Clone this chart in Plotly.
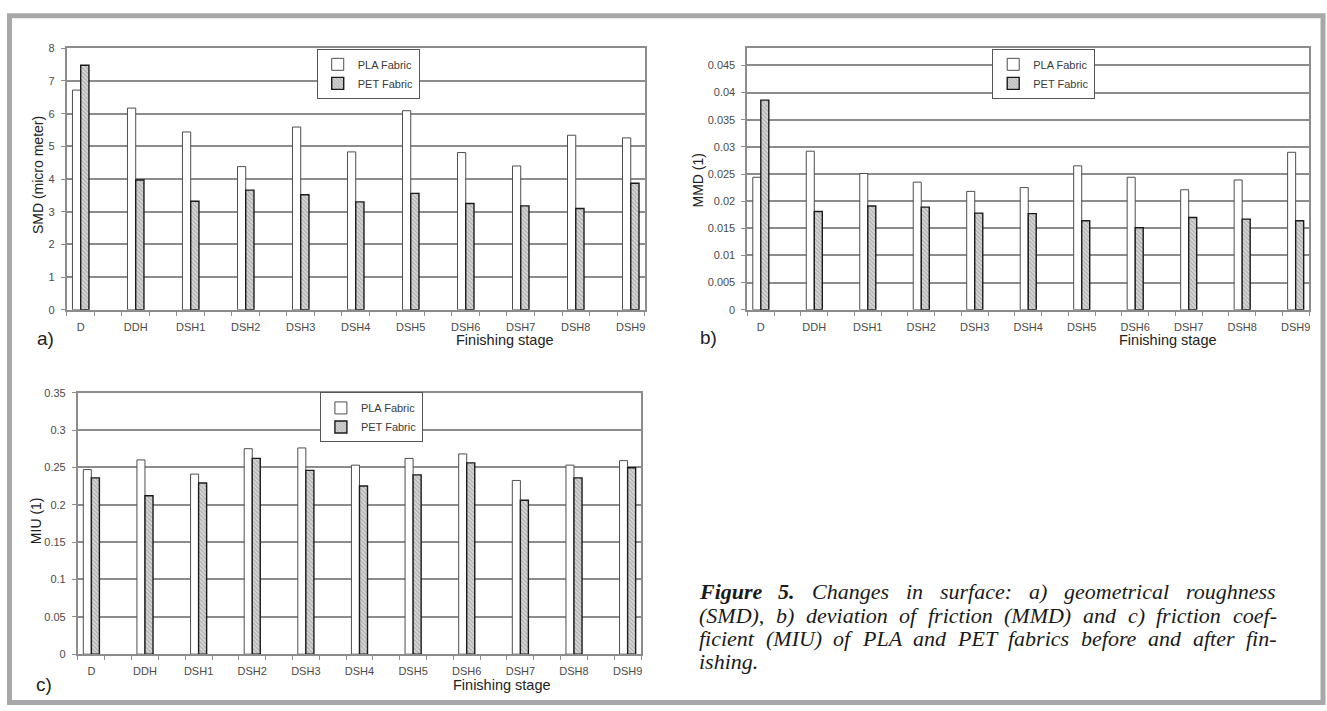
import plotly.graph_objects as go

W, H = 1327, 711

categories = ["D", "DDH", "DSH1", "DSH2", "DSH3", "DSH4", "DSH5", "DSH6", "DSH7", "DSH8", "DSH9"]

smd_pla = [6.72, 6.17, 5.44, 4.38, 5.59, 4.83, 6.09, 4.81, 4.40, 5.34, 5.26]
smd_pet = [7.48, 3.97, 3.32, 3.66, 3.52, 3.30, 3.56, 3.25, 3.18, 3.10, 3.87]

mmd_pla = [0.0244, 0.0292, 0.0251, 0.0235, 0.0218, 0.0225, 0.0265, 0.0244, 0.0221, 0.0239, 0.0290]
mmd_pet = [0.0386, 0.0181, 0.0191, 0.0189, 0.0178, 0.0177, 0.0164, 0.0151, 0.0170, 0.0167, 0.0164]

miu_pla = [0.247, 0.260, 0.241, 0.275, 0.276, 0.253, 0.262, 0.268, 0.2325, 0.253, 0.259]
miu_pet = [0.236, 0.212, 0.229, 0.262, 0.246, 0.225, 0.240, 0.256, 0.206, 0.236, 0.2495]

series_names = ["PLA Fabric", "PET Fabric"]

smd_ticks = [0, 1, 2, 3, 4, 5, 6, 7, 8]
mmd_ticks = [0, 0.005, 0.01, 0.015, 0.02, 0.025, 0.03, 0.035, 0.04, 0.045]
miu_ticks = [0, 0.05, 0.1, 0.15, 0.2, 0.25, 0.3, 0.35]

y_titles = ["SMD (micro meter)", "MMD (1)", "MIU (1)"]
x_title = "Finishing stage"
panel_labels = ["a)", "b)", "c)"]
caption_bold = "Figure 5."
caption_lines = [
    "Figure 5. Changes in surface: a) geometrical roughness",
    "(SMD), b) deviation of friction (MMD) and c) friction coef-",
    "ficient (MIU) of PLA and PET fabrics before and after fin-",
    "ishing.",
]

# ---------------- layout helpers (pixel -> paper) ----------------
def px(x):
    return x / W

def py(y):
    return 1 - y / H

panels = [
    dict(box=(67, 645, 43, 309), ymax=8.0, ticks=smd_ticks, pla=smd_pla, pet=smd_pet),
    dict(box=(748, 1310, 43, 309), ymax=0.04815, ticks=mmd_ticks, pla=mmd_pla, pet=mmd_pet),
    dict(box=(78, 641.5, 393.3, 659.3), ymax=0.35, ticks=miu_ticks, pla=miu_pla, pet=miu_pet),
]

legend_pos = [(368.5, 69), (1044.5, 69), (371.7, 418.5)]
ytitle_pos = [(38, 172), (699, 177), (36, 523)]
xtitle_pos = [(505.6, 340), (1169, 340), (502, 690.7)]
plabel_pos = [(46, 338), (709, 337), (44, 690)]

GRID = "#8c8c8c"
SANS = "Liberation Sans, Arial, sans-serif"
SERIF = "Liberation Serif, Times New Roman, serif"
TICKFONT = dict(family=SANS, size=11, color="#4a4a4a")

fig = go.Figure()

xpos = [2 * i for i in range(len(categories))]

for k, p in enumerate(panels):
    ax = "" if k == 0 else str(k + 1)
    leg = "legend" if k == 0 else "legend" + str(k + 1)
    fig.add_trace(go.Bar(
        x=xpos, y=p["pla"], name=series_names[0],
        width=0.3, offset=-0.3,
        marker=dict(color="white", line=dict(color="#4d4d4d", width=1)),
        xaxis="x" + ax, yaxis="y" + ax, legend=leg,
    ))
    fig.add_trace(go.Bar(
        x=xpos, y=p["pet"], name=series_names[1],
        width=0.3, offset=0.0,
        marker=dict(color="#d0d0d0", line=dict(color="#1a1a1a", width=1.4),
                    pattern=dict(shape="\\", fgcolor="#808080", bgcolor="#d8d8d8",
                                 size=3, solidity=0.4)),
        xaxis="x" + ax, yaxis="y" + ax, legend=leg,
    ))

layout = dict(
    width=W, height=H,
    margin=dict(l=0, r=0, t=0, b=0),
    paper_bgcolor="white", plot_bgcolor="white",
    barmode="overlay",
    showlegend=True,
    shapes=[], annotations=[],
)

for k, p in enumerate(panels):
    l, r, t, b = p["box"]
    ax = "" if k == 0 else str(k + 1)
    layout["xaxis" + ax] = dict(
        domain=[px(l), px(r)], anchor="y" + ax,
        range=[-0.5, 2 * (len(categories) - 1) + 0.5],
        tickmode="array", tickvals=xpos, ticktext=categories,
        ticks="", tickfont=TICKFONT, ticklabelstandoff=6,
        minor=dict(tickmode="linear", tick0=-0.5, dtick=1, ticks="outside",
                   ticklen=4, tickcolor=GRID, tickwidth=1, showgrid=False),
        showgrid=False, zeroline=False,
        showline=True, linecolor=GRID, linewidth=2, mirror=True,
        fixedrange=True,
    )
    layout["yaxis" + ax] = dict(
        domain=[py(b), py(t)], anchor="x" + ax,
        range=[0, p["ymax"]],
        tickmode="array", tickvals=p["ticks"],
        ticks="outside", ticklen=4, tickcolor=GRID, tickwidth=1,
        tickfont=TICKFONT, ticklabelstandoff=4,
        showgrid=True, gridcolor=GRID, gridwidth=2,
        zeroline=False,
        showline=True, linecolor=GRID, linewidth=2, mirror=True,
        fixedrange=True,
    )
    leg = "legend" if k == 0 else "legend" + str(k + 1)
    lx, ly = legend_pos[k]
    layout[leg] = dict(
        x=px(lx), y=py(ly), xanchor="center", yanchor="middle",
        xref="paper", yref="paper",
        bgcolor="white", bordercolor="#555555", borderwidth=1,
        font=dict(family=SANS, size=11, color="#3a3a3a"),
        itemwidth=30, traceorder="normal", tracegroupgap=0,
    )
    tx, ty = ytitle_pos[k]
    layout["annotations"].append(dict(
        x=px(tx), y=py(ty), xref="paper", yref="paper", showarrow=False,
        text=y_titles[k], textangle=-90, xanchor="center", yanchor="middle",
        font=dict(family=SANS, size=14, color="#222222"),
    ))
    tx, ty = xtitle_pos[k]
    layout["annotations"].append(dict(
        x=px(tx), y=py(ty), xref="paper", yref="paper", showarrow=False,
        text=x_title, xanchor="center", yanchor="middle",
        font=dict(family=SANS, size=14.5, color="#222222"),
    ))
    tx, ty = plabel_pos[k]
    layout["annotations"].append(dict(
        x=px(tx), y=py(ty), xref="paper", yref="paper", showarrow=False,
        text=panel_labels[k], xanchor="center", yanchor="middle",
        font=dict(family=SANS, size=19, color="#222222"),
    ))

# ---------------- justified italic caption ----------------
# Times New Roman Italic advance widths (per 1000 em)
IT = {' ': 250, 'a': 500, 'b': 500, 'c': 444, 'd': 500, 'e': 444, 'f': 278, 'g': 500, 'h': 500,
      'i': 278, 'j': 278, 'k': 444, 'l': 278, 'm': 722, 'n': 500, 'o': 500, 'p': 500, 'q': 500,
      'r': 389, 's': 389, 't': 278, 'u': 500, 'v': 444, 'w': 667, 'x': 444, 'y': 444, 'z': 389,
      'A': 611, 'B': 611, 'C': 667, 'D': 722, 'E': 611, 'F': 611, 'G': 722, 'H': 722, 'I': 333,
      'L': 556, 'M': 833, 'P': 611, 'S': 500, 'T': 556, 'U': 722,
      '(': 333, ')': 333, ',': 250, '.': 250, ':': 333, '-': 333, '5': 500}
BI = {'F': 667, 'i': 278, 'g': 500, 'u': 556, 'r': 389, 'e': 444, '5': 500, '.': 250}

CAP_SIZE = 22
cap_left, cap_right = 698.6, 1276.5
cap_y = [596, 620, 643.5, 667]

def word_width(w, bold):
    tab = BI if bold else IT
    return sum(tab.get(ch, 500) for ch in w) / 1000.0 * CAP_SIZE

bold_words = caption_bold.split()
for i, line in enumerate(caption_lines):
    words = line.split()
    flags = [i == 0 and j < len(bold_words) for j in range(len(words))]
    widths = [word_width(w, f) for w, f in zip(words, flags)]
    justify = i < len(caption_lines) - 1 and len(words) > 1
    if justify:
        gap = (cap_right - cap_left - sum(widths)) / (len(words) - 1)
    else:
        gap = IT[' '] / 1000.0 * CAP_SIZE
    xcur = cap_left
    for w, f, wd in zip(words, flags, widths):
        txt = "<b><i>%s</i></b>" % w if f else "<i>%s</i>" % w
        layout["annotations"].append(dict(
            x=px(xcur), y=py(cap_y[i]), xref="paper", yref="paper", showarrow=False,
            text=txt, xanchor="left", yanchor="middle", align="left", borderpad=0,
            font=dict(family=SERIF, size=CAP_SIZE, color="#1a1a1a"),
        ))
        xcur += wd + gap

# outer grey frame
layout["shapes"].append(dict(
    type="rect", xref="paper", yref="paper",
    x0=px(9.5), x1=px(1324), y0=py(708.5), y1=py(10),
    line=dict(color="#a8a8aa", width=5), fillcolor="rgba(0,0,0,0)", layer="below",
))

fig.update_layout(**layout)
fig.write_html(
    "out.html",
    config={"displayModeBar": False, "staticPlot": True},
    post_script="document.body.style.margin='0px';document.body.style.overflow='hidden';",
)
